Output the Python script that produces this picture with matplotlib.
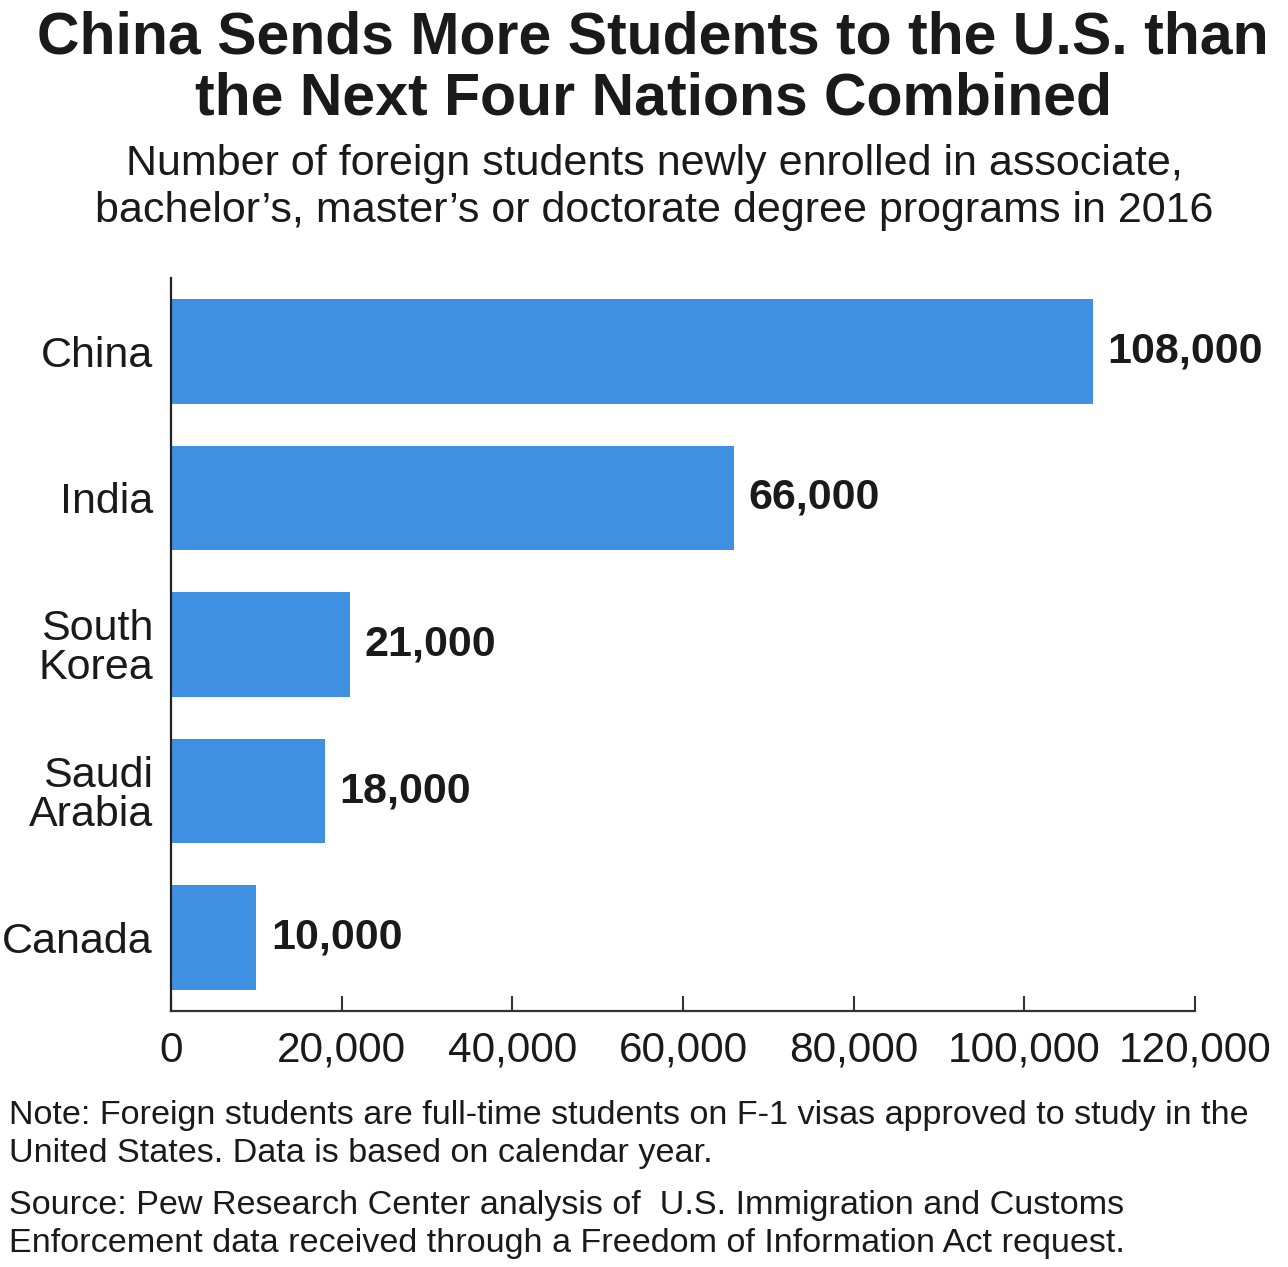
import matplotlib
matplotlib.use("Agg")
import matplotlib.pyplot as plt

plt.rcParams['font.family'] = ['Liberation Sans', 'DejaVu Sans']

# Data
countries = ["China", "India", "South\nKorea", "Saudi\nArabia", "Canada"]
students = [108000, 66000, 21000, 18000, 10000]
value_labels = ["108,000", "66,000", "21,000", "18,000", "10,000"]
x_ticks = [0, 20000, 40000, 60000, 80000, 100000, 120000]
x_tick_labels = ["0", "20,000", "40,000", "60,000", "80,000", "100,000", "120,000"]

bar_color = "#3f8fe3"
text_color = "#1a1a1a"

fig = plt.figure(figsize=(12.88, 12.67), dpi=100)
ax = fig.add_axes([0.1328, 0.2020, 0.7950, 0.5786])

# -------------------------------------------------
# BARS
# -------------------------------------------------

y_pos = list(range(len(countries)))
ax.barh(y_pos, students, height=0.714, color=bar_color)

for y, v, lab in zip(y_pos, students, value_labels):
    ax.text(v + 1700, y, lab, va="center", ha="left",
            fontsize=31, fontweight="bold", color=text_color)

ax.set_xlim(0, 120000)
ax.set_ylim(4.5, -0.5)

ax.set_yticks(y_pos)
ax.set_yticklabels(countries, fontsize=31, color=text_color, linespacing=0.98)
ax.tick_params(axis="y", length=0, pad=13)

ax.set_xticks(x_ticks)
ax.set_xticklabels(x_tick_labels, fontsize=30.5, color=text_color)
ax.tick_params(axis="x", direction="in", length=11, width=1.5, pad=14,
               color="#333333")

for side in ["top", "right"]:
    ax.spines[side].set_visible(False)
ax.spines["left"].set_linewidth(1.6)
ax.spines["bottom"].set_linewidth(1.6)
ax.spines["left"].set_color("#222222")
ax.spines["bottom"].set_color("#333333")

# -------------------------------------------------
# TEXT
# -------------------------------------------------

fig.text(0.507, 0.992, "China Sends More Students to the U.S. than\nthe Next Four Nations Combined",
         ha="center", va="top", fontsize=42.5, fontweight="bold",
         color=text_color, linespacing=1.14)

fig.text(0.508, 0.886, "Number of foreign students newly enrolled in associate,\nbachelor\u2019s, master\u2019s or doctorate degree programs in 2016",
         ha="center", va="top", fontsize=31, color=text_color, linespacing=1.22)

fig.text(0.007, 0.132, "Note: Foreign students are full-time students on F-1 visas approved to study in the\nUnited States. Data is based on calendar year.",
         ha="left", va="top", fontsize=24.6, color=text_color, linespacing=1.32)

fig.text(0.007, 0.061, "Source: Pew Research Center analysis of  U.S. Immigration and Customs\nEnforcement data received through a Freedom of Information Act request.",
         ha="left", va="top", fontsize=24.6, color=text_color, linespacing=1.32)

plt.savefig("out.png", dpi=100)
